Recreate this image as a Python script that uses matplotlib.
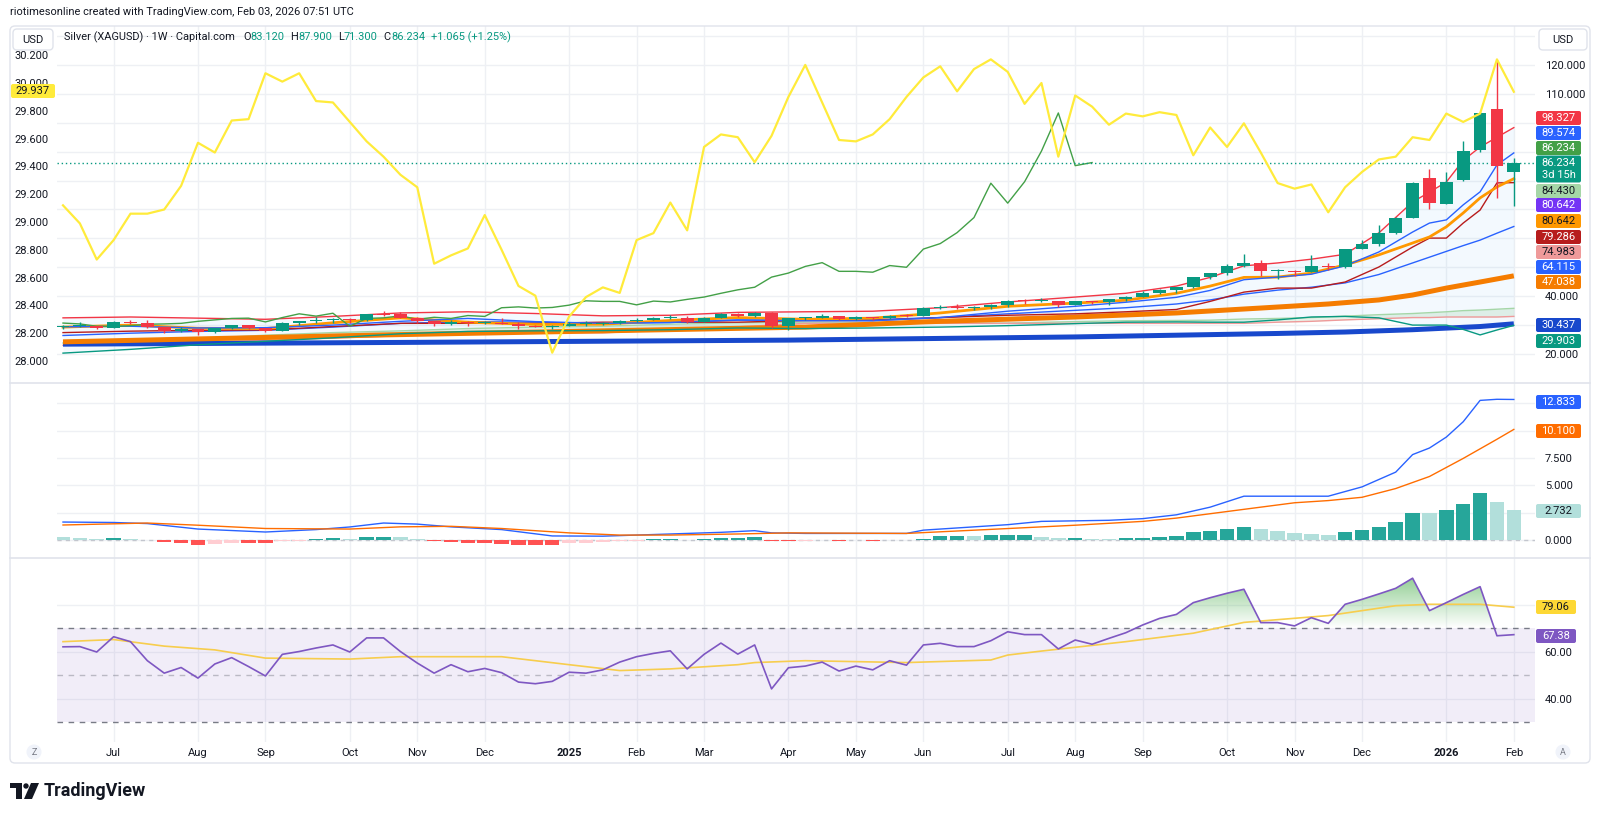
import numpy as np
import pandas as pd
import matplotlib
matplotlib.use("Agg")
import matplotlib.pyplot as plt
from matplotlib.patches import FancyBboxPatch, Circle, Polygon, Rectangle
from matplotlib.colors import LinearSegmentedColormap
from matplotlib.path import Path
from matplotlib.ticker import FixedLocator, FuncFormatter

plt.rcParams['font.family'] = ['Roboto', 'DejaVu Sans']

# ---------------- data ----------------
dates = pd.date_range("2024-06-10", periods=87, freq="W-MON")

opens = [29.3, 29.6, 29.6, 29.1, 31.1, 30.8, 29.2, 28.0, 28.5, 27.5,
         28.9, 29.9, 28.9, 28.0, 30.7, 31.3, 31.7, 32.2, 31.6, 33.7,
         33.8, 32.6, 31.3, 30.3, 31.2, 30.6, 30.7, 30.4, 29.6, 29.4,
         29.8, 30.3, 30.4, 30.6, 31.3, 31.8, 32.3, 32.4, 31.1, 32.6,
         33.9, 33.1, 34.1, 29.6, 32.3, 32.5, 33.2, 32.0, 32.7, 32.3,
         33.3, 33.0, 36.0, 36.3, 35.9, 36.1, 36.9, 38.4, 38.2, 38.2,
         37.0, 38.3, 38.0, 38.9, 39.7, 41.0, 42.2, 43.1, 46.6, 48.0,
         50.3, 51.6, 48.6, 48.6, 48.3, 50.6, 50.0, 56.3, 58.2, 62.0,
         67.2, 80.9, 72.0, 80.2, 90.6, 104.8, 83.12]
highs = [30.1, 31.0, 29.7, 31.3, 31.7, 31.8, 29.4, 29.2, 28.6, 29.0,
         30.1, 30.2, 28.9, 30.9, 31.4, 32.7, 32.3, 32.3, 33.7, 34.9,
         34.6, 32.9, 31.4, 31.6, 31.4, 31.5, 32.3, 31.0, 30.1, 30.0,
         30.9, 31.4, 31.2, 31.8, 32.6, 32.9, 33.4, 33.1, 32.8, 34.2,
         34.2, 34.5, 34.6, 32.2, 32.9, 33.7, 33.3, 33.0, 32.9, 33.5,
         33.7, 36.1, 36.9, 37.3, 36.7, 37.2, 38.6, 39.1, 39.5, 38.2,
         38.4, 38.5, 39.1, 40.0, 41.7, 42.5, 43.0, 46.8, 48.1, 51.2,
         54.5, 52.6, 49.5, 49.1, 54.4, 51.6, 56.5, 59.3, 64.6, 67.5,
         79.5, 84.0, 83.0, 93.7, 103.8, 121.6, 87.9]
lows = [28.6, 29.2, 28.6, 29.0, 30.5, 29.0, 27.4, 27.7, 26.4, 27.2,
        28.8, 28.7, 27.7, 28.0, 30.1, 30.8, 30.6, 30.8, 31.3, 33.0,
        32.4, 30.6, 29.7, 30.2, 29.7, 30.3, 30.3, 28.8, 29.4, 28.8,
        29.6, 29.8, 30.2, 30.5, 31.2, 31.6, 32.1, 30.8, 31.1, 32.5,
        32.7, 32.9, 28.9, 28.3, 31.7, 32.4, 31.8, 31.7, 31.6, 32.1,
        32.8, 33.0, 35.6, 35.5, 35.3, 35.7, 36.3, 37.4, 38.0, 36.2,
        36.9, 37.4, 36.9, 38.5, 39.6, 40.8, 41.0, 42.8, 45.9, 47.5,
        50.0, 46.9, 45.9, 46.9, 48.3, 49.0, 49.6, 56.2, 57.5, 61.5,
        67.0, 70.2, 71.8, 80.0, 90.0, 74.0, 71.3]
closes = [29.6, 29.6, 29.1, 31.2, 30.8, 29.2, 28.0, 28.5, 27.5, 28.9,
          29.9, 28.9, 28.0, 30.7, 31.3, 31.7, 32.2, 31.6, 33.7, 33.6,
          32.6, 31.3, 30.3, 31.2, 30.6, 30.7, 30.4, 29.6, 29.5, 29.8,
          30.3, 30.4, 30.6, 31.3, 31.8, 32.3, 32.4, 31.1, 32.6, 33.9,
          33.1, 34.1, 29.6, 32.3, 32.5, 33.2, 32.0, 32.7, 32.3, 33.3,
          33.0, 36.0, 36.3, 35.9, 36.1, 36.9, 38.4, 38.2, 38.2, 37.0,
          38.3, 38.0, 38.9, 39.7, 41.0, 42.2, 43.1, 46.6, 48.0, 50.3,
          51.6, 48.6, 48.6, 48.3, 50.6, 50.0, 56.3, 58.2, 62.0, 67.2,
          79.1, 72.2, 79.6, 90.2, 103.4, 85.17, 86.234]

# comparison symbol on the left scale (yellow)
compare_vals = [29.12, 28.99, 28.73, 28.87, 29.06, 29.06, 29.09, 29.26, 29.57, 29.50,
                29.73, 29.74, 30.07, 30.01, 30.07, 29.87, 29.86, 29.72, 29.58, 29.47,
                29.34, 29.25, 28.70, 28.76, 28.81, 29.05, 28.80, 28.54, 28.47, 28.06,
                28.32, 28.46, 28.53, 28.49, 28.87, 28.92, 29.14, 28.94, 29.54, 29.63,
                29.61, 29.43, 29.62, 29.90, 30.13, 29.86, 29.59, 29.58, 29.63, 29.74,
                29.90, 30.04, 30.12, 29.94, 30.10, 30.17, 30.08, 29.85, 30.00, 29.47,
                29.91, 29.83, 29.70, 29.78, 29.76, 29.79, 29.77, 29.48, 29.68, 29.54,
                29.71, 29.50, 29.28, 29.24, 29.27, 29.07, 29.25, 29.36, 29.45, 29.47,
                29.61, 29.59, 29.78, 29.72, 29.78, 30.17, 29.937]

lag_shift = 25  # Ichimoku lagging span displacement (bars)

# indicator key points (bar index -> value)
key_idx = [0, 4, 8, 12, 16, 20, 24, 28, 32, 36, 40, 44, 48, 52, 56, 60, 63, 66, 68, 70,
           72, 74, 76, 78, 80, 81, 82, 83, 84, 85, 86]
bb_upper = [32.5, 32.8, 32.4, 32.0, 33.0, 34.2, 34.6, 34.0, 33.2, 33.4, 34.4, 34.6, 34.8, 36.0,
            38.0, 39.7, 41.0, 43.5, 46.5, 50.5, 51.5, 52.8, 54.5, 61.9, 72.6, 76.0, 79.5, 87.0,
            91.6, 95.0, 98.327]
bb_lower = [20.3, 21.6, 23.2, 24.4, 25.6, 27.0, 27.8, 28.0, 28.1, 28.4, 29.0, 28.8, 29.0, 29.3,
            29.8, 30.5, 31.0, 31.1, 31.0, 31.0, 31.8, 32.8, 33.0, 32.5, 30.0, 30.0, 30.0, 28.5,
            26.6, 28.3, 29.903]
bb_basis = [26.4, 27.2, 27.8, 28.2, 29.3, 30.6, 31.2, 31.0, 30.6, 30.9, 31.7, 31.7, 31.9, 32.6,
            33.9, 35.1, 36.0, 37.3, 38.7, 40.7, 42.1, 43.1, 44.6, 47.5, 51.5, 53.5, 55.5, 57.5,
            59.4, 61.8, 64.115]
tenkan = [29.4, 29.6, 29.0, 29.1, 30.0, 31.3, 32.3, 31.2, 30.6, 30.9, 31.8, 31.5, 31.5, 32.6,
          34.8, 36.5, 37.9, 39.6, 42.0, 45.7, 46.6, 47.6, 50.5, 55.3, 62.2, 65.3, 66.4, 71.6,
          76.1, 85.4, 89.574]
kijun = [27.4, 27.9, 28.2, 28.3, 29.5, 30.6, 30.6, 30.6, 31.0, 31.0, 31.0, 31.6, 31.6, 32.6,
         33.4, 33.9, 34.6, 35.4, 38.2, 41.4, 42.8, 42.8, 44.9, 50.1, 57.0, 60.1, 60.1, 65.3,
         69.8, 79.2, 79.286]
ema_fast = [29.3, 30.0, 28.9, 28.8, 30.8, 32.5, 31.0, 30.2, 30.3, 31.6, 32.6, 32.0, 32.4, 34.2,
            36.5, 37.6, 38.6, 41.0, 43.5, 46.5, 46.6, 48.0, 50.8, 54.3, 58.4, 60.5, 64.0, 68.8,
            74.0, 77.8, 80.642]
span_a = [23.8, 24.6, 25.3, 26.5, 27.4, 28.0, 28.8, 29.3, 29.6, 30.3, 30.8, 31.0, 30.9, 30.7,
          30.7, 31.2, 31.5, 31.6, 31.7, 32.1, 32.3, 32.6, 33.1, 33.6, 34.0, 34.3, 34.6, 35.0,
          35.2, 35.5, 35.8]
span_b = [23.0, 23.4, 24.0, 24.7, 25.5, 26.3, 27.0, 27.3, 27.3, 28.4, 29.4, 30.6, 30.6, 30.6,
          30.6, 30.6, 30.6, 30.6, 30.6, 30.6, 31.0, 31.3, 31.8, 32.2, 32.6, 32.6, 32.8, 32.8,
          32.8, 32.8, 33.0]
sma200_idx = [0, 20, 43, 60, 72, 76, 80, 84, 86]
sma200 = [23.4, 24.0, 24.8, 25.9, 27.1, 27.6, 28.4, 29.5, 30.437]
sma50_idx = [0, 19, 44, 51, 60, 66, 71, 75, 78, 80, 82, 84, 86]
sma50 = [24.2, 26.6, 29.3, 31.1, 32.8, 34.2, 35.9, 37.3, 38.7, 40.4, 42.8, 44.9, 47.038]

# MACD pane
macd_idx = [0, 3, 5, 8, 12, 15, 17, 19, 21, 23, 26, 29, 32, 36, 39, 41, 42, 44, 50, 51, 53,
            56, 58, 62, 64, 66, 68, 70, 73, 75, 77, 79, 80, 81, 82, 83, 84, 85, 86]
macd_line = [1.64, 1.60, 1.50, 1.00, 0.73, 0.95, 1.19, 1.55, 1.45, 1.20, 0.95, 0.37, 0.35,
             0.55, 0.70, 0.85, 0.65, 0.60, 0.60, 0.90, 1.10, 1.40, 1.70, 1.80, 1.95, 2.30,
             3.00, 4.00, 4.00, 4.00, 4.85, 6.20, 7.80, 8.40, 9.40, 10.80, 12.75, 12.85, 12.833]
signal_idx = [0, 5, 8, 12, 17, 20, 23, 26, 30, 33, 36, 40, 43, 50, 55, 60, 64, 66, 70, 73, 75,
              77, 79, 81, 83, 85, 86]
signal_line = [1.37, 1.55, 1.35, 1.05, 1.00, 1.20, 1.25, 1.05, 0.65, 0.45, 0.45, 0.55, 0.65,
               0.60, 0.97, 1.35, 1.70, 2.00, 2.80, 3.40, 3.60, 3.90, 4.70, 5.80, 7.45, 9.20, 10.10]
macd_hist = [0.30, 0.15, 0.08, 0.20, 0.12, 0.03, -0.20, -0.30, -0.50, -0.35,
             -0.25, -0.30, -0.30, -0.10, -0.05, 0.05, 0.15, 0.05, 0.30, 0.30,
             0.25, 0.05, -0.10, -0.20, -0.25, -0.25, -0.35, -0.45, -0.45, -0.45,
             -0.30, -0.25, -0.15, -0.10, -0.05, 0.05, 0.12, 0.03, 0.10, 0.15,
             0.15, 0.25, -0.10, -0.10, -0.05, 0.03, -0.10, -0.02, -0.10, 0.02,
             -0.02, 0.10, 0.35, 0.40, 0.38, 0.45, 0.50, 0.50, 0.30, 0.20,
             0.20, 0.12, 0.10, 0.20, 0.20, 0.30, 0.40, 0.70, 0.85, 1.00,
             1.20, 1.00, 0.80, 0.65, 0.55, 0.45, 0.70, 0.95, 1.20, 1.64,
             2.50, 2.45, 2.74, 3.30, 4.30, 3.50, 2.732]

# RSI pane
rsi_vals = [62.2, 62.3, 60.0, 66.5, 64.4, 56.3, 51.0, 53.4, 48.9, 54.9,
            57.6, 53.8, 49.8, 59.0, 60.2, 61.7, 63.0, 60.0, 66.0, 66.0,
            60.2, 55.3, 51.0, 54.6, 51.6, 53.0, 51.2, 47.2, 46.5, 47.5,
            51.4, 51.0, 52.4, 55.7, 58.0, 59.4, 60.5, 52.8, 59.0, 63.8,
            59.1, 63.0, 44.3, 53.3, 54.0, 55.7, 51.9, 54.0, 52.4, 56.3,
            54.4, 63.0, 63.7, 62.3, 62.3, 64.8, 68.6, 67.4, 67.4, 61.3,
            65.1, 63.3, 65.8, 68.2, 71.5, 74.3, 76.0, 81.0, 83.1, 85.0,
            86.7, 72.5, 72.5, 71.1, 74.6, 72.2, 80.3, 82.4, 84.7, 87.1,
            91.4, 77.6, 81.0, 84.5, 87.8, 66.9, 67.38]
rsi_ma_idx = [0, 3, 6, 9, 12, 17, 20, 26, 30, 33, 36, 40, 41, 44, 50, 55, 56, 58, 63, 67, 70,
              75, 79, 81, 84, 86]
rsi_ma = [64.4, 65.3, 62.5, 60.9, 57.4, 57.0, 58.0, 58.0, 54.6, 52.1, 52.8, 54.6, 55.5, 56.3,
          55.5, 56.6, 58.7, 60.4, 64.4, 68.0, 72.6, 75.5, 79.7, 80.3, 80.3, 79.06]

# price scale tags: (text, background, text colour)
main_tags = [("98.327", "#f23645", "white"), ("89.574", "#2962ff", "white"),
             ("86.234", "#43a047", "white"), ("86.234\n3d 15h", "#089981", "white"),
             ("84.430", "#a5d6a7", "#131722"), ("80.642", "#7434f5", "white"),
             ("80.642", "#ff9800", "#131722"), ("79.286", "#b71c1c", "white"),
             ("74.983", "#ef9a9a", "#131722"), ("64.115", "#2962ff", "white"),
             ("47.038", "#f57c00", "white"), ("30.437", "#1848cc", "white"),
             ("29.903", "#089981", "white")]
macd_tags = [("12.833", "#2962ff", "white"), ("10.100", "#ff6d00", "white"),
             ("2.732", "#b2dfdb", "#131722")]
rsi_tags = [("79.06", "#fdd835", "#131722"), ("67.38", "#7e57c2", "white")]
compare_tag = "29.937"
last_price = 86.234

header = "riotimesonline created with TradingView.com, Feb 03, 2026 07:51 UTC"
legend_parts = [("Silver (XAGUSD) · 1W · Capital.com", "#131722", 8), ("O", "#131722", 0),
                ("83.120", "#089981", 6), ("H", "#131722", 0), ("87.900", "#089981", 6),
                ("L", "#131722", 0), ("71.300", "#089981", 6), ("C", "#131722", 0),
                ("86.234", "#089981", 6), ("+1.065 (+1.25%)", "#089981", 0)]

# ---------------- layout ----------------
W, H = 1600, 817
PL, PR = 57, 1535
Y_TOP, Y_MAIN, Y_MACD, Y_RSI = 26, 383, 558, 742
X0_PX, BAR_PX = 63, 16.87
UP, DN = "#089981", "#f23645"
GRID = "#eef0f4"
TXT = "#131722"
FS = 8

fig = plt.figure(figsize=(16, 8.17), dpi=100)
fig.patch.set_facecolor("white")


def rect(top, bot):
    return [PL / W, 1 - bot / H, (PR - PL) / W, (bot - top) / H]


xlim = ((PL - X0_PX) / BAR_PX, (PR - X0_PX) / BAR_PX)
x = np.arange(len(dates))

ax = fig.add_axes(rect(Y_TOP, Y_MAIN))
ax_m = fig.add_axes(rect(Y_MAIN, Y_MACD), sharex=ax)
ax_r = fig.add_axes(rect(Y_MACD, Y_RSI), sharex=ax)
ax_l = ax.twinx()

month_idx = [i for i in range(1, len(dates)) if dates[i].month != dates[i - 1].month]
month_lab = [str(dates[i].year) if dates[i].month == 1 else dates[i].strftime("%b")
             for i in month_idx]

for a in (ax, ax_m, ax_r):
    for s in a.spines.values():
        s.set_visible(False)
    a.set_facecolor("none")
    a.set_xticks(month_idx)
    a.grid(True, color=GRID, lw=1, zorder=0)
    a.set_axisbelow(True)
    a.yaxis.set_ticks_position("right")
    a.tick_params(axis="both", length=0, labelsize=FS, labelcolor=TXT)
    a.tick_params(axis="y", pad=7, labelleft=False, labelright=True)
ax.tick_params(axis="x", labelbottom=False)
ax_m.tick_params(axis="x", labelbottom=False)
ax_r.set_xticklabels(month_lab)
ax_r.tick_params(axis="x", pad=4)
for lab, t in zip(ax_r.get_xticklabels(), month_lab):
    if t.isdigit():
        lab.set_fontweight("bold")

# ---- main pane ----
ax.set_ylim(9.96, 133.49)
ax.yaxis.set_major_locator(FixedLocator(np.arange(20, 131, 10)))
ax.yaxis.set_major_formatter(FuncFormatter(
    lambda v, p: f"{v:.3f}" if int(round(v)) in (20, 40, 110, 120) else ""))

ax.fill_between(key_idx, bb_upper, bb_lower, color="#2196f3", alpha=0.05, lw=0, zorder=1)
sa, sb = np.array(span_a), np.array(span_b)
ax.fill_between(key_idx, sa, sb, where=sa >= sb, interpolate=True, color="#43a047",
                alpha=0.12, lw=0, zorder=1)
ax.fill_between(key_idx, sa, sb, where=sa < sb, interpolate=True, color="#f44336",
                alpha=0.12, lw=0, zorder=1)
ax.plot(key_idx, span_a, color="#a5d6a7", lw=1, zorder=2)
ax.plot(key_idx, span_b, color="#ef9a9a", lw=1, zorder=2)
ax.plot(sma200_idx, sma200, color="#1848cc", lw=3.6, zorder=3, solid_capstyle="butt")
ax.plot(sma50_idx, sma50, color="#f57c00", lw=3.6, zorder=3, solid_capstyle="butt")
ax.plot(key_idx, bb_lower, color="#089981", lw=1, zorder=3)
ax.plot(key_idx, bb_basis, color="#2962ff", lw=1, zorder=3)
ax.plot(key_idx, kijun, color="#b71c1c", lw=1, zorder=3)
ax.plot(key_idx, ema_fast, color="#ff9800", lw=2, zorder=3)
ax.plot(key_idx, tenkan, color="#2962ff", lw=1, zorder=3)
ax.plot(key_idx, bb_upper, color="#f23645", lw=1, zorder=3)
ax.plot(x[:len(x) - lag_shift], closes[lag_shift:], color="#43a047", lw=1, zorder=3)

o, h, l, c = map(np.array, (opens, highs, lows, closes))
col = np.where(c >= o, UP, DN)
ax.vlines(x, l, h, colors=col, lw=1, zorder=6)
ax.bar(x, np.maximum(np.abs(c - o), 0.35), bottom=np.minimum(o, c), width=0.76,
       color=col, lw=0, zorder=7)
ax.axhline(last_price, color=UP, lw=1, ls=(0, (1, 2)), zorder=4)

ax_l.set_ylim(27.842, 30.41)
for s in ax_l.spines.values():
    s.set_visible(False)
ax_l.yaxis.set_ticks_position("left")
ax_l.yaxis.set_major_locator(FixedLocator(np.round(np.arange(28.0, 30.21, 0.2), 1)))
ax_l.yaxis.set_major_formatter(FuncFormatter(lambda v, p: f"{v:.3f}"))
ax_l.tick_params(axis="y", length=0, labelsize=FS, labelcolor=TXT, pad=6,
                 labelleft=True, labelright=False)
ax_l.plot(x, compare_vals, color="#ffeb3b", lw=1.6, zorder=8)

# ---- MACD pane ----
ax_m.set_ylim(-1.644, 14.338)
ax_m.yaxis.set_major_locator(FixedLocator([0, 2.5, 5, 7.5, 10, 12.5]))
ax_m.yaxis.set_major_formatter(FuncFormatter(
    lambda v, p: f"{v:.3f}" if round(v, 1) in (0.0, 5.0, 7.5) else ""))
hist = np.array(macd_hist)
prev = np.concatenate([[hist[0] + 1.0], hist[:-1]])
hcol = np.where(hist >= 0, np.where(hist >= prev, "#26a69a", "#b2dfdb"),
                np.where(hist <= prev, "#ff5252", "#ffcdd2"))
ax_m.axhline(0, color="#c3c6ce", lw=1, ls=(0, (3, 3)), zorder=1)
ax_m.bar(x, hist, width=0.86, color=hcol, lw=0, zorder=2)
ax_m.plot(macd_idx, macd_line, color="#2962ff", lw=1, zorder=3)
ax_m.plot(signal_idx, signal_line, color="#ff6d00", lw=1, zorder=3)

# ---- RSI pane ----
ax_r.yaxis.set_major_locator(FixedLocator([40, 60, 80]))
ax_r.yaxis.set_major_formatter(FuncFormatter(
    lambda v, p: f"{v:.2f}" if int(round(v)) in (40, 60) else ""))
ax_r.axhspan(30, 70, color="#7e57c2", alpha=0.1, lw=0, zorder=1)
for lvl, al in ((70, 1.0), (50, 0.45), (30, 1.0)):
    ax_r.axhline(lvl, color="#787b86", alpha=al, lw=1, ls=(0, (4, 4)), zorder=2)
rsi = np.array(rsi_vals)
fb = ax_r.fill_between(x, rsi, 70, where=rsi >= 70, interpolate=True,
                       facecolor="none", edgecolor="none")
clip = Path.make_compound_path(*fb.get_paths())
cmap = LinearSegmentedColormap.from_list(
    "ob", [(0.30, 0.69, 0.31, 0.0), (0.30, 0.69, 0.31, 0.62)])
im = ax_r.imshow(np.linspace(0, 1, 256).reshape(-1, 1), extent=[xlim[0], xlim[1], 70, 92],
                 origin="lower", aspect="auto", cmap=cmap, zorder=2, interpolation="bilinear")
im.set_clip_path(clip, transform=ax_r.transData)
ax_r.plot(rsi_ma_idx, rsi_ma, color="#f7cd4d", lw=1.2, zorder=3)
ax_r.plot(x, rsi, color="#7e57c2", lw=1.2, zorder=4)
ax_r.set_ylim(21.7, 100)
ax.set_xlim(*xlim)

# ---------------- overlay (chrome, tags, text) ----------------
ov = fig.add_axes([0, 0, 1, 1], zorder=20)
ov.set_xlim(0, W)
ov.set_ylim(H, 0)
ov.axis("off")

ov.add_patch(FancyBboxPatch((10, 26), 1580, 737, boxstyle="round,pad=0,rounding_size=5",
                            fc="none", ec="#e0e3eb", lw=1))
ov.plot([10, 1590], [Y_MAIN, Y_MAIN], color="#e0e3eb", lw=1.2)
ov.plot([10, 1590], [Y_MACD, Y_MACD], color="#e0e3eb", lw=1.2)

ov.text(10, 12, header, fontsize=7.9, color=TXT, va="center", ha="left")

renderer = fig.canvas.get_renderer()
cur = 64
for t, cc, gap in legend_parts:
    tt = ov.text(cur, 37, t, fontsize=7.9, color=cc, va="center", ha="left")
    cur += tt.get_window_extent(renderer).width + gap

for bx, bw in ((13, 40), (1539, 48)):
    ov.add_patch(FancyBboxPatch((bx, 29), bw, 21, boxstyle="round,pad=0,rounding_size=4",
                                fc="white", ec="#e0e3eb", lw=1))
    ov.text(bx + bw / 2, 39.5, "USD", fontsize=FS, color=TXT, ha="center", va="center")


def tag(text, yc, bg, fg, x0=1536, w=45):
    hgt = 27 if "\n" in text else 14
    ov.add_patch(FancyBboxPatch((x0, yc - hgt / 2), w, hgt,
                                boxstyle="round,pad=0,rounding_size=2", fc=bg, ec="none"))
    ov.text(x0 + w / 2, yc, text, fontsize=FS, color=fg, ha="center", va="center",
            linespacing=1.25)


main_tag_y = [118, 133, 148, 169, 191, 205, 221, 237, 252, 267, 282, 325, 341]
for (t, bg, fg), yy in zip(main_tags, main_tag_y):
    tag(t, yy, bg, fg)
for (t, bg, fg), yy in zip(macd_tags, [402, 431, 511]):
    tag(t, yy, bg, fg)
for (t, bg, fg), yy in zip(rsi_tags, [607, 636]):
    tag(t, yy, bg, fg, w=40)
tag(compare_tag, 91, "#ffeb3b", TXT, x0=11, w=44)

for cx, letter in ((34, "Z"), (1563, "A")):
    ov.add_patch(Circle((cx, 752), 7.5, fc="#f0f3fa", ec="none"))
    ov.text(cx, 752.5, letter, fontsize=6.5, color="#787b86", ha="center", va="center")

# TradingView logo
ov.add_patch(Rectangle((10, 783), 12, 5, fc=TXT, ec="none"))
ov.add_patch(Rectangle((16, 783), 6, 16, fc=TXT, ec="none"))
ov.add_patch(Circle((26, 786), 2.7, fc=TXT, ec="none"))
ov.add_patch(Polygon([(31, 783), (39, 783), (32, 799), (24, 799)], closed=True, fc=TXT, ec="none"))
ov.text(44, 791, "TradingView", fontsize=13, fontweight="bold", color=TXT, ha="left",
        va="center")

fig.savefig("out.png", dpi=100)
